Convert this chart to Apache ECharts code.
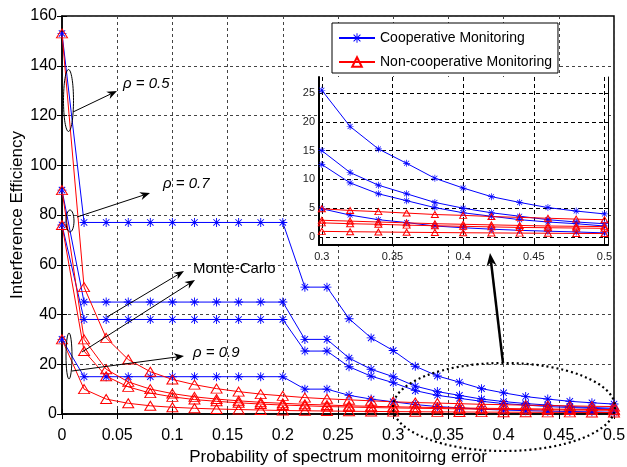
<!DOCTYPE html>
<html>
<head>
<meta charset="utf-8">
<script src="https://cdn.jsdelivr.net/npm/echarts@6/dist/echarts.min.js"></script>
<style>
  html, body { margin: 0; padding: 0; background: #fff; }
  #chart { width: 627px; height: 467px; }
</style>
</head>
<body>
<div id="chart"></div>
<script>
// probability of spectrum monitoring error (x)
const errProb = [0, 0.02, 0.04, 0.06, 0.08, 0.1, 0.12, 0.14, 0.16, 0.18, 0.2, 0.22, 0.24,
  0.26, 0.28, 0.3, 0.32, 0.34, 0.36, 0.38, 0.4, 0.42, 0.44, 0.46, 0.48, 0.5]

// cooperative monitoring (blue, asterisk)
const coopRho05 = [153, 77, 77, 77, 77, 77, 77, 77, 77, 77, 77, 51, 51, 38.3, 30.6,
  25.5, 19.2, 15.3, 12.8, 10.2, 8.5, 7.0, 6.0, 5.1, 4.5, 4.0]
const coopRho07 = [90, 45, 45, 45, 45, 45, 45, 45, 45, 45, 45, 30, 30, 22.5, 18,
  15, 11.2, 9.0, 7.5, 6.0, 5.0, 4.2, 3.6, 3.0, 2.6, 2.3]
const coopMC = [76, 38, 38, 38, 38, 38, 38, 38, 38, 38, 38, 25.3, 25.3, 19, 15.2,
  12.6, 9.4, 7.5, 6.3, 5.1, 4.2, 3.6, 3.0, 2.6, 2.3, 1.9]
const coopRho09 = [30, 15, 15, 15, 15, 15, 15, 15, 15, 15, 15, 10, 10, 7.5, 6.0,
  4.9, 3.8, 3.0, 2.5, 1.9, 1.6, 1.35, 1.15, 1.0, 0.87, 0.7]

// non-cooperative monitoring (red, triangle)
const nonRho05 = [153, 51, 30.6, 21.9, 17.0, 13.9, 11.8, 10.2, 9.0, 8.0, 7.3, 6.6, 6.1,
  5.7, 5.3, 4.9, 4.6, 4.4, 4.15, 3.9, 3.75, 3.55, 3.4, 3.25, 3.1, 3.0]
const nonRho07 = [90, 30, 18, 12.9, 10.0, 8.2, 6.9, 6.0, 5.3, 4.7, 4.3, 3.9, 3.6,
  3.3, 3.1, 2.9, 2.75, 2.6, 2.45, 2.3, 2.2, 2.1, 2.0, 1.9, 1.85, 1.8]
const nonMC = [76, 25.3, 15.2, 10.9, 8.4, 6.9, 5.8, 5.1, 4.5, 4.0, 3.6, 3.3, 3.0,
  2.8, 2.6, 2.45, 2.3, 2.2, 2.05, 1.95, 1.85, 1.75, 1.65, 1.6, 1.55, 1.5]
const nonRho09 = [30, 10, 6, 4.3, 3.3, 2.7, 2.3, 2.0, 1.8, 1.6, 1.4, 1.3, 1.2,
  1.1, 1.03, 0.97, 0.91, 0.86, 0.81, 0.77, 0.73, 0.7, 0.67, 0.64, 0.61, 0.59]

const coopName = 'Cooperative Monitoring'
const nonName = 'Non-cooperative Monitoring'

// inset (zoom on 0.3 .. 0.5)
const insetStart = 15
const insetXTicks = [0.3, 0.35, 0.4, 0.45, 0.5]
const insetYTicks = [0, 5, 10, 15, 20, 25]

const font = 'Liberation Sans, Arial, Helvetica, sans-serif'
const star = 'path://M0 4.5H10V5.5H0Z M4.5 0H5.5V10H4.5Z M1.1 1.8L1.8 1.1L8.9 8.2L8.2 8.9Z M8.2 1.1L8.9 1.8L1.8 8.9L1.1 8.2Z'

const pairs = (vals, from=0) => vals.slice(from).map((v, i) => [errProb[i + from], v])

function coopSeries(vals, inset){
    return {
        name: coopName, type: 'line',
        xAxisIndex: inset ? 2 : 0, yAxisIndex: inset ? 2 : 0,
        z: inset ? 5 : 2,
        data: pairs(vals, inset ? insetStart : 0),
        symbol: star, symbolSize: inset ? 7 : 9,
        lineStyle: {color: '#0000ff', width: 1},
        itemStyle: {color: '#0000ff'},
        animation: false
    }
}

function nonSeries(vals, inset){
    return {
        name: nonName, type: 'line',
        xAxisIndex: inset ? 2 : 0, yAxisIndex: inset ? 2 : 0,
        z: inset ? 5 : 2,
        data: pairs(vals, inset ? insetStart : 0),
        symbol: 'triangle', symbolSize: inset ? [7, 6] : [11, 9],
        lineStyle: {color: '#ff0000', width: 1},
        itemStyle: {color: 'rgba(255,255,255,0)', borderColor: '#ff0000', borderWidth: 1},
        animation: false
    }
}

// annotation arrow with a notched head
function arrow(x1, y1, x2, y2, w=1, head=10, half=4){
    const a = Math.atan2(y2 - y1, x2 - x1)
    const c = Math.cos(a), s = Math.sin(a)
    const bx = x2 - head*c, by = y2 - head*s
    const nx = x2 - head*0.7*c, ny = y2 - head*0.7*s
    return [
        {type: 'line', z: 20, shape: {x1, y1, x2: nx, y2: ny}, style: {stroke: '#000', lineWidth: w}},
        {type: 'polygon', z: 20, shape: {points: [[x2, y2], [bx - s*half, by + c*half], [nx, ny], [bx + s*half, by - c*half]]},
         style: {fill: '#000'}}
    ]
}

const ring = (cx, cy, rx, ry, extra={}) => ({
    type: 'ellipse', z: 20, shape: {cx, cy, rx, ry},
    style: Object.assign({fill: null, stroke: '#000', lineWidth: 1}, extra)
})

const label = (text, x, y, italic) => ({
    type: 'text', z: 20, x, y,
    style: {text, font: (italic ? 'italic ' : '') + '15px ' + font, fill: '#000', verticalAlign: 'middle'}
})

const chart = echarts.init(document.getElementById('chart'), null, {renderer: 'canvas'})

const gridDash = {show: true, lineStyle: {color: '#444', type: [3, 3], width: 1}}
const insetDash = {show: true, lineStyle: {color: '#000', type: [4, 3], width: 1}}

chart.setOption({
    backgroundColor: '#fff',
    animation: false,
    textStyle: {fontFamily: font},
    legend: {
        data: [coopName, nonName],
        orient: 'vertical', left: 332, top: 23,
        padding: [8, 6, 4, 6], itemGap: 10, itemWidth: 36, itemHeight: 12,
        backgroundColor: '#fff', borderColor: '#000', borderWidth: 1,
        textStyle: {fontSize: 14, color: '#000', fontFamily: font},
        z: 30
    },
    grid: [
        {left: 62, top: 16, right: 13, bottom: 53, show: true, borderColor: '#000', borderWidth: 1.5,
         containLabel: false, outerBoundsMode: 'none'},
        {left: 319, top: 77, right: 19, bottom: 222, show: true, backgroundColor: '#fff', borderWidth: 0, z: 3,
         containLabel: false, outerBoundsMode: 'none'}
    ],
    xAxis: [
        {
            type: 'value', gridIndex: 0, min: 0, max: 0.5, interval: 0.05,
            name: 'Probability of spectrum monitoirng error', nameLocation: 'middle', nameGap: 35,
            nameTextStyle: {fontSize: 17, color: '#000'},
            axisLine: {show: true, lineStyle: {color: '#000', width: 1.5}},
            axisTick: {show: true, inside: true, length: 5, lineStyle: {color: '#000'}},
            axisLabel: {fontSize: 16, color: '#000', margin: 14},
            splitLine: gridDash
        },
        {
            type: 'value', gridIndex: 0, position: 'top', min: 0, max: 0.5, interval: 0.05,
            axisLine: {show: false}, axisLabel: {show: false}, splitLine: {show: false},
            axisTick: {show: true, inside: true, length: 5, lineStyle: {color: '#000'}}
        },
        {
            type: 'value', gridIndex: 1, min: 0.298, max: 0.5025, z: 4,
            axisLine: {show: true, onZero: false, lineStyle: {color: '#000', width: 2}},
            axisTick: {show: true, inside: true, length: 4, customValues: insetXTicks, lineStyle: {color: '#000'}},
            axisLabel: {fontSize: 11, color: '#222', margin: 6, customValues: insetXTicks},
            splitLine: insetDash
        }
    ],
    yAxis: [
        {
            type: 'value', gridIndex: 0, min: 0, max: 160, interval: 20,
            name: 'Interference Efficiency', nameLocation: 'middle', nameGap: 36, nameMoveOverlap: false,
            nameTextStyle: {fontSize: 17, color: '#000'},
            axisLine: {show: true, lineStyle: {color: '#000', width: 1.5}},
            axisTick: {show: true, inside: true, length: 5, lineStyle: {color: '#000'}},
            axisLabel: {fontSize: 16, color: '#000', margin: 5},
            splitLine: gridDash
        },
        {
            type: 'value', gridIndex: 0, position: 'right', min: 0, max: 160, interval: 20,
            axisLine: {show: false}, axisLabel: {show: false}, splitLine: {show: false},
            axisTick: {show: true, inside: true, length: 5, lineStyle: {color: '#000'}}
        },
        {
            type: 'value', gridIndex: 1, min: -1.4, max: 27.8, z: 4,
            axisLine: {show: true, onZero: false, lineStyle: {color: '#000', width: 2}},
            axisTick: {show: true, inside: true, length: 4, customValues: insetYTicks, lineStyle: {color: '#000'}},
            axisLabel: {fontSize: 11, color: '#222', margin: 4, customValues: insetYTicks},
            splitLine: insetDash
        },
        {
            type: 'value', gridIndex: 1, position: 'right', min: -1.4, max: 27.8, z: 4,
            axisLine: {show: true, onZero: false, lineStyle: {color: '#000', width: 1}},
            axisLabel: {show: false}, splitLine: {show: false},
            axisTick: {show: true, inside: true, length: 4, customValues: insetYTicks, lineStyle: {color: '#000'}}
        }
    ],
    series: [
        coopSeries(coopRho05), coopSeries(coopRho07), coopSeries(coopMC), coopSeries(coopRho09),
        nonSeries(nonRho05), nonSeries(nonRho07), nonSeries(nonMC), nonSeries(nonRho09),
        coopSeries(coopRho05, true), coopSeries(coopRho07, true), coopSeries(coopMC, true), coopSeries(coopRho09, true),
        nonSeries(nonRho05, true), nonSeries(nonRho07, true), nonSeries(nonMC, true), nonSeries(nonRho09, true)
    ],
    graphic: [
        ring(68.5, 100.5, 5, 31),
        ...arrow(73, 112, 117, 91),
        label('ρ = 0.5', 123, 84, true),
        ring(70, 221, 4, 11),
        ...arrow(77, 217, 150, 193),
        label('ρ = 0.7', 163, 184, true),
        ...arrow(107, 317, 184, 271),
        ...arrow(82, 352, 195, 280),
        label('Monte-Carlo', 193, 269, false),
        ring(69, 356, 3, 23),
        ...arrow(72, 371, 184, 356),
        label('ρ = 0.9', 193, 353, true),
        ring(504, 407, 111, 44, {lineWidth: 2.2, lineDash: [2, 3]}),
        ...arrow(503, 363, 490, 253, 2.5, 13, 5)
    ]
})
</script>
</body>
</html>
